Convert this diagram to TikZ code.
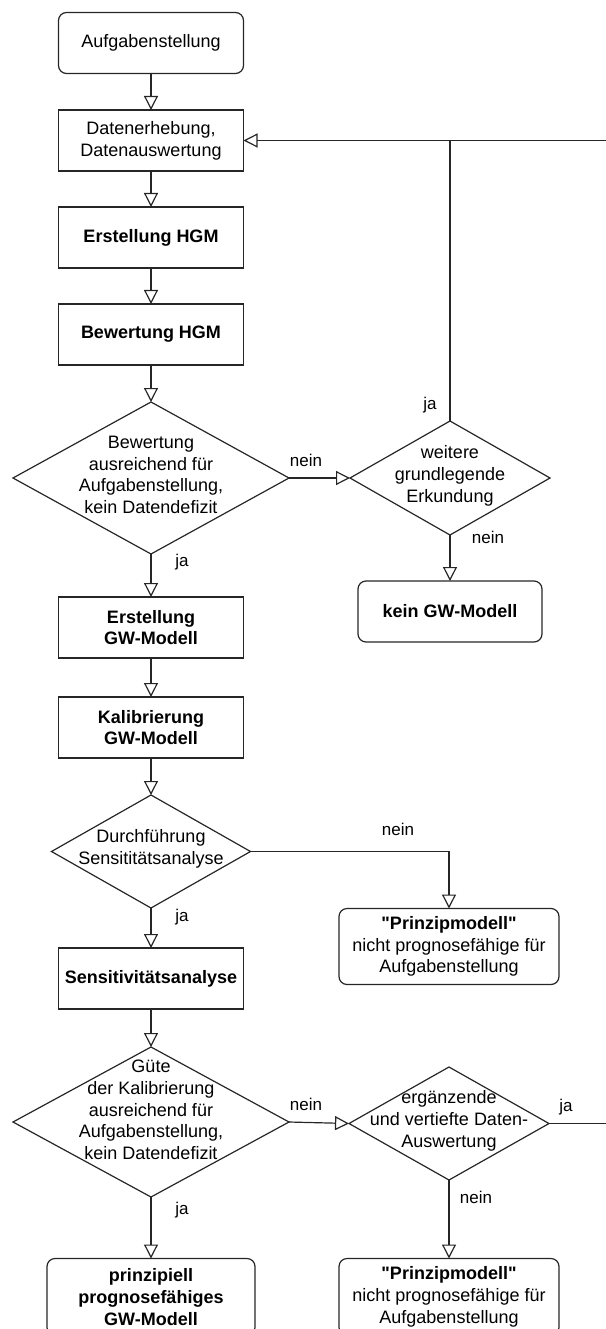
\documentclass[tikz,border=0pt]{standalone}
\usepackage{fontspec}
\setmainfont{Liberation Sans}
\usetikzlibrary{shapes.geometric,arrows.meta}
\font\qfbold="Liberation Sans/B" at 18pt
\newcommand{\sq}{{\qfbold"}}
\tikzset{
  base/.style={draw=black!85, line width=1.2pt, inner sep=0pt, outer sep=0pt, align=center,
    font=\fontsize{18}{21.7}\selectfont, text=black},
  procbox/.style={base, rectangle, minimum width=185pt, minimum height=61pt},
  termbox/.style={base, rectangle, rounded corners=8pt},
  dia/.style={draw=black!85, line width=1.2pt, diamond, inner sep=0pt, outer sep=0pt},
  diatext/.style={inner sep=0pt, align=center, font=\fontsize{18}{21.7}\selectfont, text=black},
  lbl/.style={inner sep=0pt, font=\fontsize{17}{20}\selectfont, text=black},
  arr/.style={draw=black!85, line width=1.2pt, -{Triangle[open, length=14pt, width=14pt]}},
  ln/.style={draw=black!85, line width=1.2pt},
}
\begin{document}
\begin{tikzpicture}[x=1pt, y=-1pt]
\useasboundingbox (0,0) rectangle (605,1329);

% left column
\node[termbox, minimum width=185pt, minimum height=61pt] (n1) at (151,43) {Aufgabenstellung};
\node[procbox] (n2) at (151,140.5) {Datenerhebung,\\Datenauswertung};
\node[procbox] (n3) at (151,237.5) {\textbf{Erstellung HGM}};
\node[procbox] (n4) at (151,334.5) {\textbf{Bewertung HGM}};
\node[dia, minimum width=276pt, minimum height=152pt] (d1) at (151,478) {};
\node[diatext] (t1) at (151,475) {Bewertung\\ausreichend für\\Aufgabenstellung,\\kein Datendefizit};
\node[procbox] (n5) at (151,627.5) {\textbf{Erstellung}\\\textbf{GW-Modell}};
\node[procbox] (n6) at (151,727.5) {\textbf{Kalibrierung}\\\textbf{GW-Modell}};
\node[dia, minimum width=199pt, minimum height=113pt] (d3) at (151,851.5) {};
\node[diatext] (t3) at (151,849) {Durchführung\\Sensititätsanalyse};
\node[procbox] (n7) at (151,978.5) {\textbf{Sensitivitätsanalyse}};
\node[dia, minimum width=276pt, minimum height=150pt] (d4) at (151,1122) {};
\node[diatext] (t4) at (151,1110) {Güte\\der Kalibrierung\\ausreichend für\\Aufgabenstellung,\\kein Datendefizit};
\node[termbox, minimum width=208pt, minimum height=77pt] (f1) at (151,1297) {\textbf{prinzipiell}\\\textbf{prognosefähiges}\\\textbf{GW-Modell}};

% right column
\node[dia, minimum width=200pt, minimum height=114pt] (d2) at (450,478) {};
\node[diatext] (t2) at (450,476) {weitere\\grundlegende\\Erkundung};
\node[termbox, minimum width=184pt, minimum height=61pt] (k) at (450,611.5) {\textbf{kein GW-Modell}};
\node[termbox, minimum width=220pt, minimum height=76pt] (p1) at (449,946.5) {\textbf{\sq Prinzipmodell\sq}\\nicht prognosefähige für\\Aufgabenstellung};
\node[dia, minimum width=200pt, minimum height=113pt] (d5) at (449,1123.5) {};
\node[diatext] (t5) at (449,1121) {ergänzende\\und vertiefte Daten-\\Auswertung};
\node[termbox, minimum width=220pt, minimum height=77pt] (p2) at (449,1297) {\textbf{\sq Prinzipmodell\sq}\\nicht prognosefähige für\\Aufgabenstellung};

\coordinate (fbR) at (607,140.5);
\coordinate (fbR2) at (607,1123.5);

% connectors
\draw[arr] (n1) -- (n2);
\draw[arr] (n2) -- (n3);
\draw[arr] (n3) -- (n4);
\draw[arr] (n4) -- (d1.north);
\draw[arr] (d1.south) -- (n5);
\draw[arr] (n5) -- (n6);
\draw[arr] (n6) -- (d3.north);
\draw[arr] (d3.south) -- (n7);
\draw[arr] (n7) -- (d4.north);
\draw[arr] (d4.south) -- (f1);
\draw[arr] (d1.east) -- (d2.west);
\draw[arr] (d2.south) -- (k);
\draw[ln] (d2.north) -- (d2.north |- fbR);
\draw[arr] (fbR) -- (n2.east);
\draw[arr] (d3.east) -| (p1.north);
\draw[arr] (d4.east) -- (d5.west);
\draw[arr] (d5.south) -- (p2);
\draw[ln] (d5.east) -- (fbR2);

% labels
\node[lbl] (l1) at (306,460) {nein};
\node[lbl] (l2) at (430,405) {ja};
\node[lbl] (l3) at (488,537) {nein};
\node[lbl] (l4) at (182,562) {ja};
\node[lbl] (l5) at (398,829) {nein};
\node[lbl] (l6) at (182,917) {ja};
\node[lbl] (l7) at (306,1104) {nein};
\node[lbl] (l8) at (566,1107) {ja};
\node[lbl] (l9) at (476,1197) {nein};
\node[lbl] (l10) at (182,1210) {ja};
\end{tikzpicture}
\end{document}
